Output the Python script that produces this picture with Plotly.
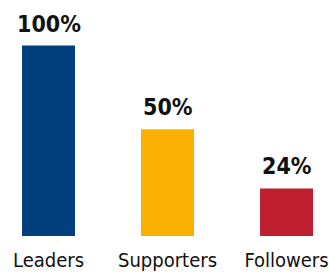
import plotly.graph_objects as go

categories = ["Leaders", "Supporters", "Followers"]
bar_heights = [100, 56, 25]
value_labels = ["100%", "50%", "24%"]
colors = ["#003f7d", "#f9b000", "#be1e2d"]

FONT = "DejaVu Sans Condensed, Liberation Sans Narrow, Arial Narrow, sans-serif"

fig = go.Figure()
fig.add_trace(go.Bar(
    x=list(range(len(categories))), y=bar_heights,
    marker=dict(color=colors, line=dict(width=0)),
    width=0.445, hoverinfo="skip",
))
for i, (h, lab) in enumerate(zip(bar_heights, value_labels)):
    fig.add_annotation(x=i, y=h, text="<b>%s</b>" % lab, showarrow=False,
                       yanchor="bottom", yshift=7,
                       font=dict(family=FONT, size=23, color="#111111"))

fig.update_layout(
    width=329, height=272,
    margin=dict(l=0, r=0, t=0, b=36, pad=0),
    paper_bgcolor="white", plot_bgcolor="white",
    showlegend=False,
    xaxis=dict(range=[-0.4076, 2.357], tickmode="array",
               tickvals=list(range(len(categories))), ticktext=categories,
               showgrid=False, zeroline=False, showline=False, ticks="",
               automargin=False, ticklabelstandoff=10,
               tickfont=dict(family=FONT, size=20, color="#111111")),
    yaxis=dict(range=[0, 123.9], visible=False),
)
fig.write_html("out.html", config={"displayModeBar": False},
               post_script="document.body.style.margin='0';document.body.style.padding='0';")
